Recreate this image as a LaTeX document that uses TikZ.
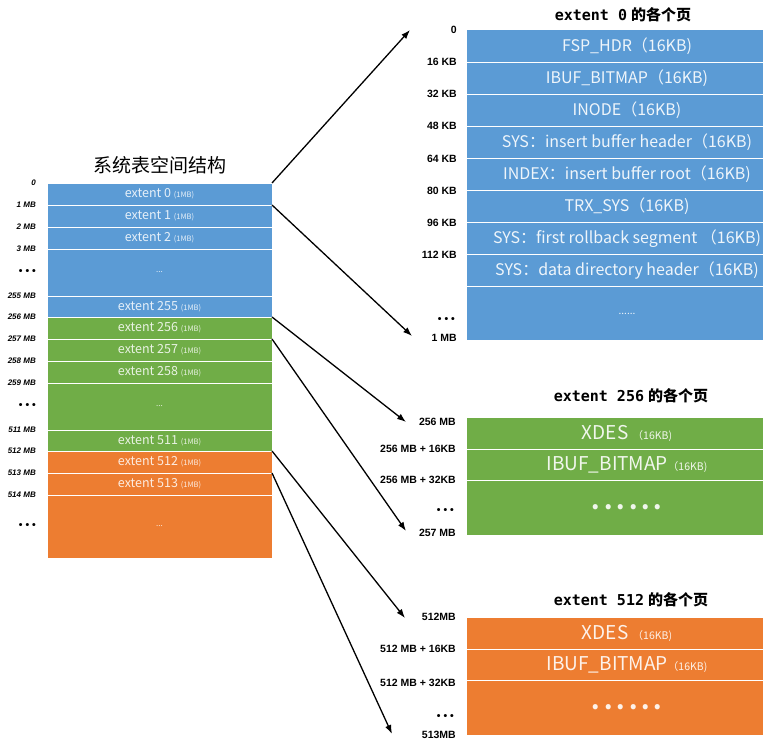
\documentclass[tikz,border=0pt]{standalone}
\usepackage{fontspec}
\setmainfont{Liberation Sans}
\newfontfamily\cjk{Noto Sans CJK SC}
\newfontfamily\monob{DejaVu Sans Mono}
\usetikzlibrary{positioning, arrows.meta}
\definecolor{extblue}{HTML}{5B9BD5}
\definecolor{extgreen}{HTML}{70AD47}
\definecolor{extorange}{HTML}{ED7D31}
\newcommand{\smallmb}{{\fontsize{7.5}{8}\selectfont(1MB)}}
\newcommand{\smallkb}{{\fontsize{10.5}{12}\selectfont（16KB)}}
\newcommand{\pgdots}{{\bfseries\fontsize{24}{26}\selectfont .\kern4pt.\kern4pt.\kern4pt.\kern4pt.\kern4pt.}}
\begin{document}
\begin{tikzpicture}[x=1pt, y=-1pt, >={Latex[length=9pt, width=6.5pt]},
        lrow/.style={rectangle, draw=white, line width=0.8pt, minimum width=225pt, minimum height=#1, inner sep=0pt, outer sep=0pt, text=white, text opacity=0.85, font=\cjk\fontsize{12.5}{14}\selectfont},
        rrow/.style={rectangle, draw=white, line width=1pt, minimum width=322pt, minimum height=#1, inner sep=0pt, outer sep=0pt, text=white, text opacity=0.9, font=\cjk\fontsize{16}{18}\selectfont},
        brow/.style={rrow=#1, font=\cjk\fontsize{19}{22}\selectfont},
        llbl/.style={inner sep=0pt, font=\bfseries\itshape\fontsize{8}{9}\selectfont},
        rlbl/.style={inner sep=0pt, font=\bfseries\fontsize{10.5}{12}\selectfont},
        ttl/.style={inner sep=0pt, font=\bfseries\fontsize{15}{17}\selectfont}]
        \useasboundingbox (0,0) rectangle (763,741);
        \clip (0,0) rectangle (763,741);

        % system tablespace
        \node (tl) [inner sep=0pt, font=\cjk\fontsize{19}{21}\selectfont] at (160,165) {系统表空间结构};
        \node (e0) [lrow=22pt, fill=extblue, anchor=north west] at (47,183) {extent 0 \smallmb};
        \node (e1) [lrow=22pt, fill=extblue, below=0pt of e0] {extent 1 \smallmb};
        \node (e2) [lrow=22pt, fill=extblue, below=0pt of e1] {extent 2 \smallmb};
        \node (ed1) [lrow=47pt, fill=extblue, below=0pt of e2] {\fontsize{8}{9}\selectfont ...};
        \node (e255) [lrow=21pt, fill=extblue, below=0pt of ed1] {extent 255 \smallmb};
        \node (e256) [lrow=22pt, fill=extgreen, below=0pt of e255] {extent 256 \smallmb};
        \node (e257) [lrow=22pt, fill=extgreen, below=0pt of e256] {extent 257 \smallmb};
        \node (e258) [lrow=22pt, fill=extgreen, below=0pt of e257] {extent 258 \smallmb};
        \node (ed2) [lrow=47pt, fill=extgreen, below=0pt of e258] {\fontsize{8}{9}\selectfont ...};
        \node (e511) [lrow=21pt, fill=extgreen, below=0pt of ed2] {extent 511 \smallmb};
        \node (e512) [lrow=22pt, fill=extorange, below=0pt of e511] {extent 512 \smallmb};
        \node (e513) [lrow=22pt, fill=extorange, below=0pt of e512] {extent 513 \smallmb};
        \node (ed3) [lrow=63pt, fill=extorange, below=0pt of e513] {\fontsize{8}{9}\selectfont ...};

        \node [llbl, left=11pt of e0.north west] {0};
        \node [llbl, left=11pt of e1.north west] {1 MB};
        \node [llbl, left=11pt of e2.north west] {2 MB};
        \node [llbl, left=11pt of ed1.north west] {3 MB};
        \node [rlbl, left=11pt of ed1.west] {• • •};
        \node [llbl, left=11pt of e255.north west] {255 MB};
        \node [llbl, left=11pt of e256.north west] {256 MB};
        \node [llbl, left=11pt of e257.north west] {257 MB};
        \node [llbl, left=11pt of e258.north west] {258 MB};
        \node [llbl, left=11pt of ed2.north west] {259 MB};
        \node [rlbl, left=11pt of ed2.west] {• • •};
        \node [llbl, left=11pt of e511.north west] {511 MB};
        \node [llbl, left=11pt of e512.north west] {512 MB};
        \node [llbl, left=11pt of e513.north west] {513 MB};
        \node [llbl, left=11pt of ed3.north west] {514 MB};
        \node [rlbl, left=11pt of ed3.west] {• • •};

        % pages of extent 0
        \node (h0) [ttl] at (623,15) {{\monob extent 0} {\cjk 的各个页}};
        \node (p0) [rrow=32.1pt, fill=extblue, anchor=north west] at (466,30) {FSP\_HDR（16KB)};
        \node (p1) [rrow=32.1pt, fill=extblue, below=0pt of p0] {IBUF\_BITMAP（16KB)};
        \node (p2) [rrow=32.1pt, fill=extblue, below=0pt of p1] {INODE（16KB)};
        \node (p3) [rrow=32.1pt, fill=extblue, below=0pt of p2] {SYS：insert buffer header（16KB)};
        \node (p4) [rrow=32.1pt, fill=extblue, below=0pt of p3] {INDEX：insert buffer root（16KB)};
        \node (p5) [rrow=32.1pt, fill=extblue, below=0pt of p4] {TRX\_SYS（16KB)};
        \node (p6) [rrow=32.1pt, fill=extblue, below=0pt of p5] {SYS：first rollback segment （16KB)};
        \node (p7) [rrow=32.1pt, fill=extblue, below=0pt of p6] {SYS：data directory header（16KB)};
        \node (p8) [rrow=54pt, fill=extblue, below=0pt of p7] {\fontsize{10}{12}\selectfont ......};

        \node [rlbl, left=9pt of p0.north west] {0};
        \node [rlbl, left=9pt of p1.north west] {16 KB};
        \node [rlbl, left=9pt of p2.north west] {32 KB};
        \node [rlbl, left=9pt of p3.north west] {48 KB};
        \node [rlbl, left=9pt of p4.north west] {64 KB};
        \node [rlbl, left=9pt of p5.north west] {80 KB};
        \node [rlbl, left=9pt of p6.north west] {96 KB};
        \node [rlbl, left=9pt of p7.north west] {112 KB};
        \node [rlbl, left=11pt of p8.west, yshift=-6pt] {• • •};
        \node [rlbl, left=9pt of p8.south west, yshift=3pt] {1 MB};

        % pages of extent 256
        \node (h1) [ttl] at (631,396) {{\monob extent 256} {\cjk 的各个页}};
        \node (q0) [brow=32pt, fill=extgreen, anchor=north west] at (466,417) {XDES \smallkb};
        \node (q1) [brow=31pt, fill=extgreen, below=0pt of q0] {IBUF\_BITMAP\smallkb};
        \node (q2) [brow=55pt, fill=extgreen, below=0pt of q1] {\pgdots};

        \node [rlbl, left=10pt of q0.north west, yshift=-5pt] {256 MB};
        \node [rlbl, left=10pt of q1.north west] {256 MB + 16KB};
        \node [rlbl, left=12pt of q2.west, yshift=-4pt] {• • •};
        \node [rlbl, left=10pt of q2.north west] {256 MB + 32KB};
        \node [rlbl, left=10pt of q2.south west, yshift=2pt] {257 MB};

        % pages of extent 512
        \node (h2) [ttl] at (631,600) {{\monob extent 512} {\cjk 的各个页}};
        \node (r0) [brow=32pt, fill=extorange, anchor=north west] at (466,617) {XDES \smallkb};
        \node (r1) [brow=31pt, fill=extorange, below=0pt of r0] {IBUF\_BITMAP\smallkb};
        \node (r2) [brow=55pt, fill=extorange, below=0pt of r1] {\pgdots};

        \node [rlbl, left=10pt of r0.north west] {512MB};
        \node [rlbl, left=10pt of r1.north west] {512 MB + 16KB};
        \node [rlbl, left=10pt of r2.north west, yshift=-3pt] {512 MB + 32KB};
        \node [rlbl, left=12pt of r2.west, yshift=-10pt] {• • •};
        \node [rlbl, left=10pt of r2.south west] {513MB};

        \coordinate (t0) at (410,30);
        \coordinate (t1) at (412,336);
        \coordinate (t2) at (406,422);
        \coordinate (t3) at (406,531);
        \coordinate (t4) at (405,618);
        \coordinate (t5) at (392,734);

        \path[->, line width=1.3pt]
            (e0.north east) edge (t0)
            (e0.south east) edge (t1)
            (e256.north east) edge (t2)
            (e256.south east) edge (t3)
            (e512.north east) edge (t4)
            (e512.south east) edge (t5);
    \end{tikzpicture}
\end{document}
